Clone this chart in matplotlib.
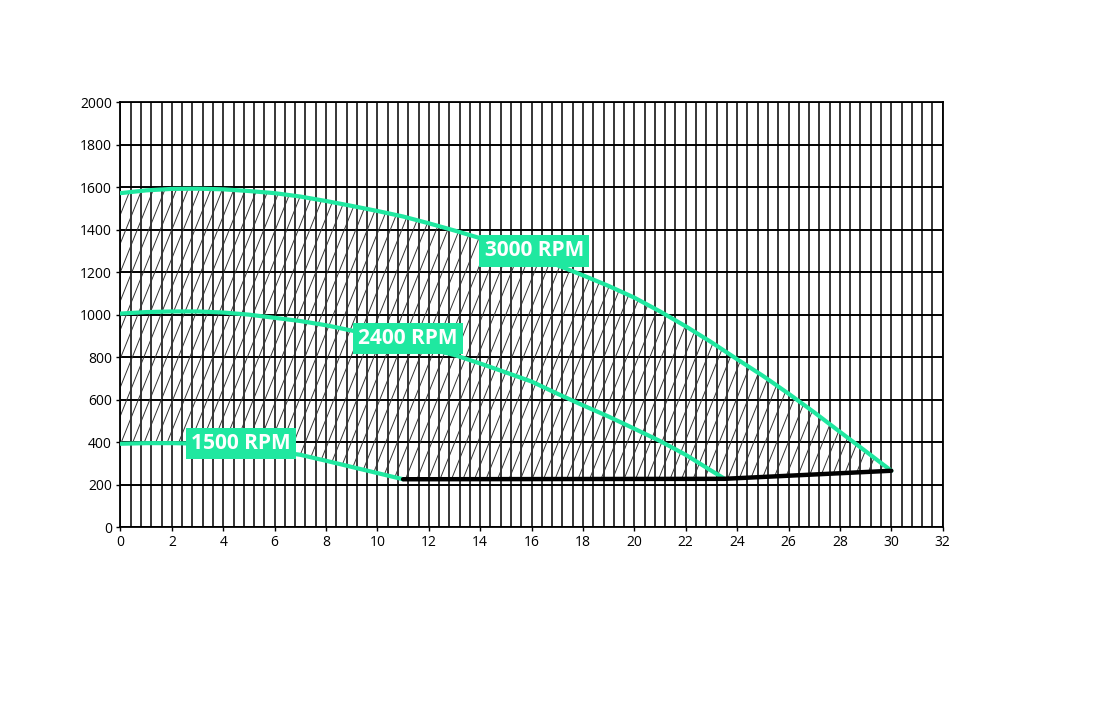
import numpy as np
import matplotlib

matplotlib.use("Agg")
import matplotlib.pyplot as plt
from matplotlib.collections import LineCollection
from matplotlib.patches import Polygon

GREEN = "#1fe8a0"

# 3000 RPM curve
rpm3000_x = [0, 1, 2, 3, 4, 5, 6, 7, 8, 9, 10, 11, 12, 13, 14, 15, 16, 17, 18,
             19, 20, 21, 22, 23, 24, 25, 26, 27, 28, 29, 30]
rpm3000_y = [1572, 1585, 1592, 1593, 1590, 1582, 1572, 1556, 1535, 1512, 1488,
             1462, 1430, 1396, 1360, 1320, 1278, 1233, 1185, 1135, 1080, 1015,
             945, 870, 790, 712, 628, 540, 448, 357, 265]

# 2400 RPM curve
rpm2400_x = [0, 1, 2, 3, 4, 5, 6, 7, 8, 9, 10, 11, 12, 13, 14, 15, 16, 17, 18,
             19, 20, 21, 22, 23, 23.5]
rpm2400_y = [1005, 1012, 1015, 1015, 1010, 1000, 985, 970, 950, 925, 898, 868,
             840, 810, 770, 728, 685, 628, 573, 520, 463, 405, 340, 265, 228]

# 1500 RPM curve
rpm1500_x = [0, 1, 2, 3, 4, 5, 6, 7, 8, 9, 10, 11]
rpm1500_y = [392, 395, 395, 393, 386, 375, 358, 340, 312, 283, 254, 225]

# lower limit (black)
limit_x = [11, 23.5, 30]
limit_y = [225, 227, 265]

labels = ["3000 RPM", "2400 RPM", "1500 RPM"]
label_x = [16.1, 11.2, 4.7]
label_y = [1300, 889, 394]

fig = plt.figure(figsize=(11, 7.2), dpi=100)
ax = fig.add_axes([0.1095, 0.268, 0.7475, 0.59])
ax.set_xlim(0, 32)
ax.set_ylim(0, 2000)

ax.set_xticks(np.arange(0, 33, 2))
ax.set_xticks(np.arange(0, 32.01, 0.4), minor=True)
ax.set_yticks(np.arange(0, 2001, 200))
ax.grid(True, which="major", axis="y", color="black", lw=1.4)
ax.grid(True, which="both", axis="x", color="black", lw=1.1)
ax.set_axisbelow(True)
ax.tick_params(which="major", length=3, width=1, labelsize=10, pad=3,
               colors="black")
ax.tick_params(which="minor", length=0)
for lab in ax.get_xticklabels() + ax.get_yticklabels():
    lab.set_family(["Open Sans", "DejaVu Sans"])
for sp in ax.spines.values():
    sp.set_linewidth(1.3)

# hatched operating area
upper = np.column_stack([rpm3000_x, rpm3000_y])
lower = np.vstack([np.column_stack([rpm1500_x, rpm1500_y]),
                   np.column_stack([limit_x[1:], limit_y[1:]])])
poly = Polygon(np.vstack([upper, lower[::-1]]), closed=True,
               facecolor="none", edgecolor="none")
ax.add_patch(poly)
dydx = 2.5 * (0.7475 * 1100 / 32) / (0.59 * 720 / 2000)
step = 11.5 / (0.7475 * 1100 / 32)
segs = [[(c, 0), (c + 2000 / dydx, 2000)]
        for c in np.arange(-8, 32, step)]
hatch = LineCollection(segs, colors="#333333", linewidths=0.7, zorder=1.5)
ax.add_collection(hatch)
hatch.set_clip_path(poly)

ax.plot(rpm3000_x, rpm3000_y, color=GREEN, lw=3, zorder=3,
        solid_capstyle="round")
ax.plot(rpm2400_x, rpm2400_y, color=GREEN, lw=3, zorder=3,
        solid_capstyle="round")
ax.plot(rpm1500_x, rpm1500_y, color=GREEN, lw=3, zorder=3,
        solid_capstyle="round")
ax.plot(limit_x, limit_y, color="black", lw=3.2, zorder=4,
        solid_capstyle="round")

for t, x, y in zip(labels, label_x, label_y):
    ax.text(x, y, t, ha="center", va="center", color="white", fontsize=15,
            fontweight="bold", family=["Open Sans", "DejaVu Sans"], zorder=6,
            bbox=dict(boxstyle="square,pad=0.25", fc=GREEN, ec="none"))

fig.savefig("out.png", dpi=100, facecolor="white")
